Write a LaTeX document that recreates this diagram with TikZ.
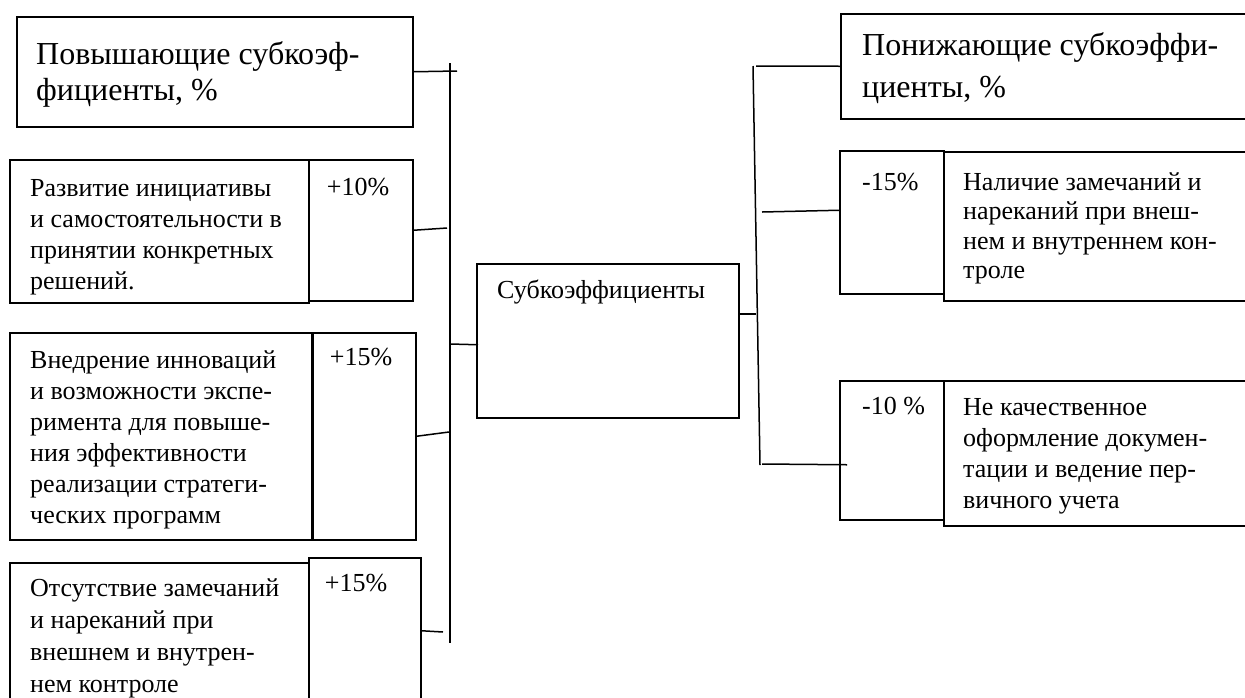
\documentclass[tikz,border=0pt]{standalone}
\usepackage{fontspec}
\setmainfont{Liberation Serif}
\newcommand{\mltext}[1]{\parbox[t]{400pt}{#1}}
\begin{document}
\begin{tikzpicture}[x=1pt,y=-1pt,
  box/.style={draw, line width=1.5pt, inner sep=0pt, anchor=north west},
  conn/.style={line width=1.5pt},
  txt/.style={anchor=base west, inner sep=0pt, font=\fontsize{26}{31}\selectfont},
  pct/.style={anchor=base, inner sep=0pt, font=\fontsize{26}{31}\selectfont},
  head/.style={anchor=base west, inner sep=0pt, font=\fontsize{32}{36}\selectfont}]
\useasboundingbox (0,0) rectangle (1245,697);
\clip (0,0) rectangle (1245,697);
% ---------- left side boxes
\node[box, minimum width=396pt, minimum height=110pt] (h1) at (16,16) {};
\node[box, minimum width=299pt, minimum height=143pt] (b1t) at (9,159) {};
\node[box, minimum width=104pt, minimum height=141pt] (b1p) at (308,159) {};
\node[box, minimum width=302pt, minimum height=207pt] (b2t) at (9,332) {};
\node[box, minimum width=103pt, minimum height=207pt] (b2p) at (312,332) {};
\node[box, minimum width=299pt, minimum height=140pt] (b3t) at (9,562) {};
\node[box, minimum width=112pt, minimum height=144pt] (b3p) at (308,557) {};
% ---------- centre
\node[box, minimum width=262pt, minimum height=154pt] (c) at (476,263) {};
% ---------- right side boxes
\node[box, minimum width=422pt, minimum height=105pt] (h2) at (840,13) {};
\node[box, minimum width=104pt, minimum height=143pt] (r1p) at (839,150) {};
\node[box, minimum width=319pt, minimum height=149pt] (r1t) at (943,151) {};
\node[box, minimum width=104pt, minimum height=139pt] (r2p) at (839,380) {};
\node[box, minimum width=319pt, minimum height=145pt] (r2t) at (943,380) {};
% ---------- texts
\node[head] (h1x) at (36,64) {\mltext{Повышающие субкоэф-\\фициенты, \%}};
\node[head, font=\fontsize{32}{42}\selectfont] (h2x) at (862,55) {\mltext{Понижающие субкоэффи-\\циенты, \%}};
\node[txt] (b1x) at (30,196) {\mltext{Развитие инициативы\\и самостоятельности в\\принятии конкретных\\решений.}};
\node[pct] (b1v) at (358,195) {+10\%};
\node[txt] (b2x) at (30,368) {\mltext{Внедрение инноваций\\и возможности экспе-\\римента для повыше-\\ния эффективности\\реализации стратеги-\\ческих программ}};
\node[pct] (b2v) at (361,365) {+15\%};
\node[txt, font=\fontsize{26}{32}\selectfont] (b3x) at (30,596) {\mltext{Отсутствие замечаний\\и нареканий при\\внешнем и внутрен-\\нем контроле}};
\node[pct] (b3v) at (356,591) {+15\%};
\node[txt] (cx) at (497,298) {Субкоэффициенты};
\node[txt] (r1v) at (862,190) {-15\%};
\node[txt, font=\fontsize{26}{29.5}\selectfont] (r1x) at (963,190) {\mltext{Наличие замечаний и\\нареканий при внеш-\\нем и внутреннем кон-\\троле}};
\node[txt] (r2v) at (862,414) {-10 \%};
\node[txt, font=\fontsize{26}{31}\selectfont] (r2x) at (963,415) {\mltext{Не качественное\\оформление докумен-\\тации и ведение пер-\\вичного учета}};
% ---------- spines
\coordinate (ls1) at (450,63);
\coordinate (ls2) at (450,643);
\coordinate (rs1) at (753,66);
\coordinate (rs2) at (760,465);
\draw[conn] (ls1) -- (ls2);
\draw[conn] (rs1) -- (rs2);
% ---------- connectors left
\coordinate (e1) at (457,71);
\coordinate (e2) at (447,228);
\coordinate (e3) at (449,432);
\coordinate (e4) at (443,632);
\coordinate (e5) at (450,344);
\draw[conn] (h1.east) -- (e1);
\draw[conn] (b1p.east) -- (e2);
\draw[conn] (b2p.east) -- (e3);
\draw[conn] ([yshift=-1pt]b3p.east) -- (e4);
\draw[conn] (e5) -- ([yshift=-4pt,xshift=2pt]c.west);
% ---------- connectors right
\coordinate (f0) at (756,314);
\coordinate (f1) at (756,66);
\coordinate (f2) at (762,212);
\coordinate (f3) at (762,464);
\draw[conn] (c.east |- f0) -- (f0);
\draw[conn] (f1) -- (h2.west);
\draw[conn] (f2) -- ([yshift=12pt]r1p.west);
\draw[conn] (f3) -- ([xshift=8pt,yshift=-14.5pt]r2p.west);
\end{tikzpicture}
\end{document}
